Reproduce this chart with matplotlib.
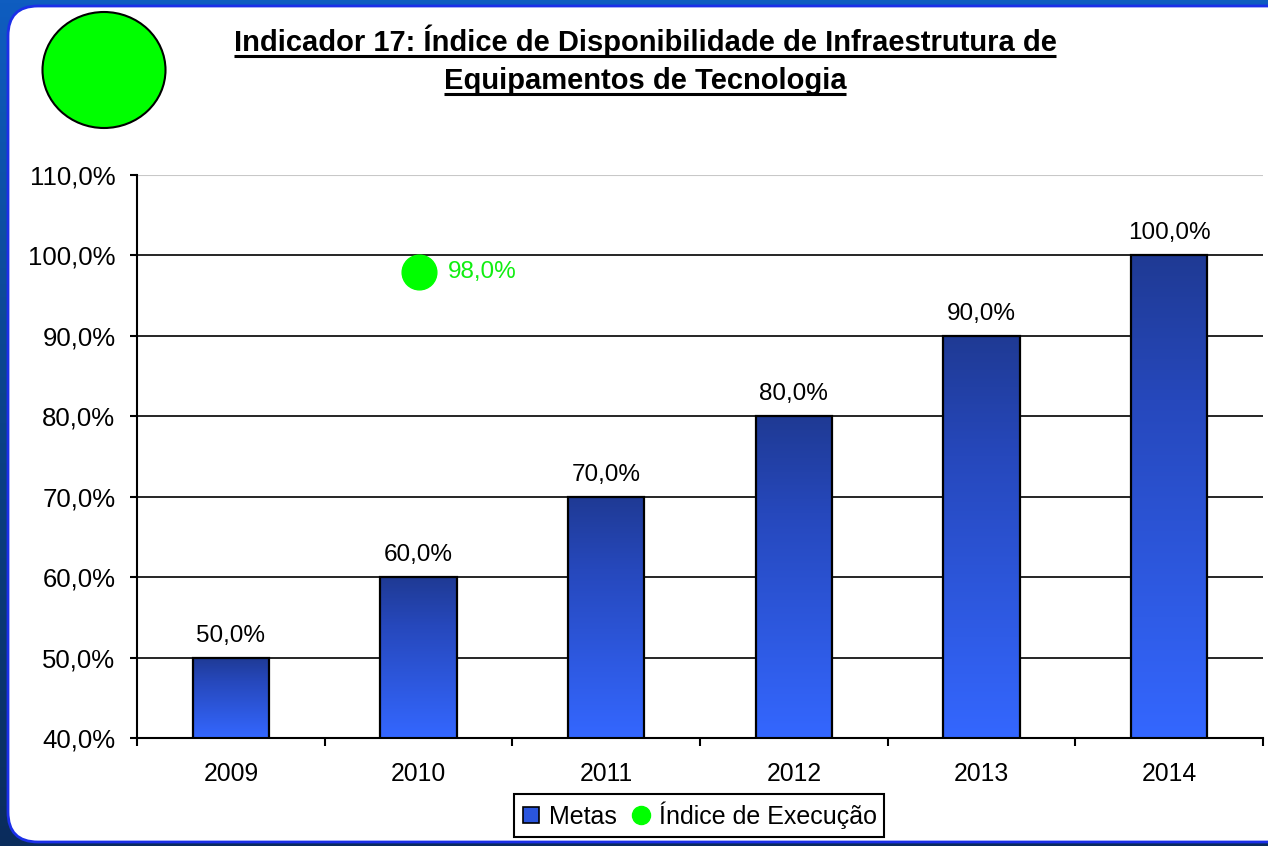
import numpy as np
import matplotlib.pyplot as plt
from matplotlib.patches import FancyBboxPatch, Ellipse
from matplotlib.colors import LinearSegmentedColormap
from matplotlib.lines import Line2D

plt.rcParams['font.family'] = ['Liberation Sans', 'DejaVu Sans']

# dados
anos = ['2009', '2010', '2011', '2012', '2013', '2014']
metas = [50.0, 60.0, 70.0, 80.0, 90.0, 100.0]
exec_ano = '2010'
exec_valor = 98.0
yticks = [40, 50, 60, 70, 80, 90, 100, 110]
titulo = ['Indicador 17: Índice de Disponibilidade de Infraestrutura de',
          'Equipamentos de Tecnologia']


def pct(v):
    return f'{v:.1f}'.replace('.', ',') + '%'


W, H = 1268, 846
fig = plt.figure(figsize=(W / 100, H / 100), dpi=100)

# fundo do slide (coordenadas em pixels)
bg = fig.add_axes([0, 0, 1, 1])
bg.set_xlim(0, W)
bg.set_ylim(H, 0)
bg.axis('off')
bg_cmap = LinearSegmentedColormap.from_list('bg', ['#0F5DC0', '#0B4287', '#0A2C5C'])
bg.imshow(np.linspace(0, 1, 256).reshape(-1, 1), cmap=bg_cmap,
          extent=(0, W, H, 0), aspect='auto', zorder=0)
bg.add_patch(FancyBboxPatch((8, 6), 1320, 836, boxstyle='round,pad=0,rounding_size=30',
                            fc='white', ec='#1B2FE8', lw=2, zorder=1))
bg.add_patch(Ellipse((104, 70), 123, 116, fc='#00FF00', ec='black', lw=1.5, zorder=2))

tbase = [51, 89]
tt = []
for txt, yb in zip(titulo, tbase):
    tt.append(bg.text(645, yb, txt, ha='center', va='baseline', fontsize=21,
                      fontweight='bold', zorder=3))

# grafico
ax = fig.add_axes([137 / W, (H - 738) / H, 1126 / W, 563 / H])
ax.set_facecolor('none')
x = np.arange(len(anos))
w = 0.405

bar_cmap = LinearSegmentedColormap.from_list('bar', [(0, '#3467FF'), (0.7, '#2648BC'), (1, '#1F3A94')])
grad = np.linspace(1, 0, 256).reshape(-1, 1)
for xi, v in zip(x, metas):
    ax.imshow(grad, cmap=bar_cmap, extent=(xi - w / 2, xi + w / 2, yticks[0], v),
              aspect='auto', zorder=2)
ax.bar(x, metas, width=w, fill=False, edgecolor='black', lw=1.6, zorder=3)

for xi, v in zip(x, metas):
    ax.annotate(pct(v), (xi, v), xytext=(0, 11.5), textcoords='offset points',
                ha='center', va='baseline', fontsize=17.5)

xe = anos.index(exec_ano)
ax.plot([xe], [exec_valor], 'o', ms=25, color='#00FF00', zorder=5, clip_on=False)
ax.annotate(pct(exec_valor), (xe, exec_valor), xytext=(21, 0), textcoords='offset points',
            ha='left', va='center', color='#11EE11', fontsize=17.5)

for v in yticks[1:-1]:
    ax.axhline(v, color='black', lw=1.2, zorder=1)
ax.axhline(yticks[-1], color='#C8C8C8', lw=1.5, zorder=1)

ax.set_xlim(-0.5, len(anos) - 0.5)
ax.set_ylim(yticks[0], yticks[-1])
ax.set_yticks(yticks)
ax.set_yticklabels([pct(v) for v in yticks], fontsize=18.5)
ax.set_xticks(np.arange(-0.5, len(anos), 1))
ax.set_xticklabels([])
ax.set_xticks(x, minor=True)
ax.set_xticklabels(anos, minor=True, fontsize=17.8)
ax.tick_params(axis='x', which='major', length=6, width=1.5, direction='out')
ax.tick_params(axis='x', which='minor', length=0, pad=17)
ax.tick_params(axis='y', length=5, width=1.5, pad=10.5)
for s in ['top', 'right']:
    ax.spines[s].set_visible(False)
for s in ['left', 'bottom']:
    ax.spines[s].set_linewidth(1.5)

handles = [
    Line2D([], [], ls='none', marker='s', ms=12, mfc='#2A55DD', mec='black', mew=1.2),
    Line2D([], [], ls='none', marker='o', ms=13, mfc='#00FF00', mec='#00FF00'),
]
leg = fig.legend(handles, ['Metas', 'Índice de Execução'], loc='upper center',
                 bbox_to_anchor=(699 / W, 1 - 794 / H), ncol=2, fontsize=18,
                 frameon=True, fancybox=False, edgecolor='black', framealpha=1,
                 handlelength=0.8, handletextpad=0.3, columnspacing=0.6,
                 borderpad=0.3, borderaxespad=0)
leg.get_frame().set_linewidth(1.5)

# sublinhado do titulo
fig.canvas.draw()
inv = bg.transData.inverted()
for t, yb in zip(tt, tbase):
    bb = t.get_window_extent()
    x0 = inv.transform((bb.x0, bb.y0))[0]
    x1 = inv.transform((bb.x1, bb.y0))[0]
    bg.plot([x0, x1], [yb + 5.5, yb + 5.5], color='black', lw=2.2, zorder=3,
            solid_capstyle='butt')

fig.savefig('out.png', dpi=100)
